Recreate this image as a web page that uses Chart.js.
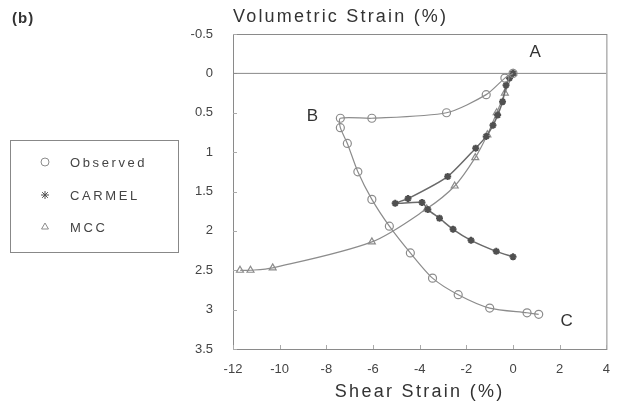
<!DOCTYPE html>
<html><head><meta charset="utf-8">
<script src="https://cdn.jsdelivr.net/npm/chart.js@4"></script>
<style>html,body{margin:0;padding:0;background:#fff}canvas{display:block}</style>
</head><body>
<canvas id="c" width="623" height="407"></canvas>
<script>
// ---- data ----
const observedX = [0, -0.35, -1.15, -2.85, -6.05, -7.4, -7.4, -7.1, -6.65, -6.05, -5.3, -4.4, -3.45, -2.35, -1.0, 0.6, 1.1];
const observedY = [0, 0.06, 0.27, 0.50, 0.57, 0.57, 0.69, 0.89, 1.25, 1.60, 1.94, 2.28, 2.60, 2.81, 2.98, 3.04, 3.06];

const carmelX = [0, -0.15, -0.3, -0.45, -0.66, -0.86, -1.15, -1.6, -2.8, -4.5, -5.05, -3.9, -3.65, -3.15, -2.57, -1.8, -0.72, 0];
const carmelY = [0, 0.06, 0.15, 0.36, 0.53, 0.66, 0.80, 0.95, 1.31, 1.59, 1.65, 1.64, 1.73, 1.84, 1.98, 2.12, 2.26, 2.33];

const mccX = [0, -0.35, -0.7, -1.1, -1.62, -2.5, -3.7, -6.05, -10.3, -11.25, -11.7];
const mccY = [0, 0.25, 0.50, 0.78, 1.07, 1.43, 1.72, 2.14, 2.47, 2.50, 2.50];

const zeroLineX = [-12, 4];
const zeroLineY = [0, 0];

const xTickMin = -12, xTickMax = 4, xTickStep = 2;
const yTickMin = -0.5, yTickMax = 3.5, yTickStep = 0.5;

const pointLabels = ['A', 'B', 'C'];
const pointLabelX = [0.95, -8.6, 2.3];
const pointLabelY = [-0.27, 0.55, 3.15];

const panelLabel = '(b)';
const yTitle = 'Volumetric Strain (%)';
const xTitle = 'Shear Strain (%)';
const seriesNames = ['Observed', 'CARMEL', 'MCC'];

const toPts = (xs, ys) => xs.map((x, i) => ({x, y: ys[i]}));
const FONT = '"Liberation Sans", Arial, sans-serif';

const decorPlugin = {
  id: 'decor',
  beforeDatasetsDraw(chart) {
    const {ctx, chartArea: a, scales} = chart;
    ctx.save();
    ctx.strokeStyle = '#8a8a8a';
    ctx.lineWidth = 1;
    ctx.strokeRect(a.left + 0.5, a.top + 0.5, a.right - a.left, a.bottom - a.top);
    // inward tick marks
    ctx.strokeStyle = '#aaa';
    for (let v = yTickMin; v <= yTickMax + 1e-9; v += yTickStep) {
      const py = Math.round(scales.y.getPixelForValue(v)) + 0.5;
      ctx.beginPath(); ctx.moveTo(a.left, py); ctx.lineTo(a.left + 4, py); ctx.stroke();
    }
    for (let v = xTickMin; v <= xTickMax + 1e-9; v += xTickStep) {
      const px = Math.round(scales.x.getPixelForValue(v)) + 0.5;
      ctx.beginPath(); ctx.moveTo(px, a.bottom); ctx.lineTo(px, a.bottom - 4); ctx.stroke();
    }
    ctx.restore();
  },
  afterDraw(chart) {
    const {ctx, chartArea: a, scales} = chart;
    ctx.save();
    ctx.fillStyle = '#333';
    ctx.textBaseline = 'middle';
    // panel label
    ctx.font = 'bold 15px ' + FONT;
    ctx.letterSpacing = '1px';
    ctx.textAlign = 'left';
    ctx.fillText(panelLabel, 12, 19);
    // y title (top)
    ctx.font = '18px ' + FONT;
    ctx.letterSpacing = '2.2px';
    ctx.fillText(yTitle, a.left, 17);
    // x title
    ctx.textAlign = 'center';
    ctx.letterSpacing = '2.3px';
    ctx.fillText(xTitle, (a.left + a.right) / 2, 392);
    // point labels A B C
    ctx.letterSpacing = '0px';
    ctx.font = '17px ' + FONT;
    pointLabels.forEach((t, i) => {
      ctx.fillText(t, scales.x.getPixelForValue(pointLabelX[i]), scales.y.getPixelForValue(pointLabelY[i]));
    });
    // legend box
    ctx.strokeStyle = '#888';
    ctx.lineWidth = 1;
    ctx.strokeRect(10.5, 140.5, 168, 112);
    const rows = [162, 195, 227];
    ctx.font = '13px ' + FONT;
    ctx.letterSpacing = '2.6px';
    ctx.textAlign = 'left';
    seriesNames.forEach((name, i) => {
      const ds = chart.data.datasets[i];
      const opts = {pointStyle: ds.pointStyle, radius: 4, borderWidth: ds.legendBorder, rotation: 0};
      ctx.strokeStyle = ds.pointBorderColor;
      ctx.fillStyle = ds.pointBackgroundColor;
      ctx.lineWidth = ds.legendBorder;
      Chart.helpers.drawPoint(ctx, opts, 45, rows[i]);
      ctx.fillStyle = '#444';
      ctx.fillText(name, 70, rows[i] + 1);
    });
    ctx.restore();
  }
};

new Chart(document.getElementById('c'), {
  type: 'scatter',
  data: {
    datasets: [
      {
        label: seriesNames[0], data: toPts(observedX, observedY), showLine: true, tension: 0.25,
        borderColor: '#8c8c8c', borderWidth: 1.2, pointStyle: 'circle', pointRadius: 4,
        pointBorderColor: '#8c8c8c', pointBackgroundColor: 'rgba(255,255,255,0)', pointBorderWidth: 1.2, legendBorder: 1
      },
      {
        label: seriesNames[1], data: toPts(carmelX, carmelY), showLine: true, tension: 0.2,
        borderColor: '#6a6a6a', borderWidth: 1.5, pointStyle: 'star', pointRadius: 3.5,
        pointBorderColor: '#505050', pointBackgroundColor: '#505050', pointBorderWidth: 2, legendBorder: 1
      },
      {
        label: seriesNames[2], data: toPts(mccX, mccY), showLine: true, tension: 0.3,
        borderColor: '#8c8c8c', borderWidth: 1.2, pointStyle: 'triangle', pointRadius: 4,
        pointBorderColor: '#8c8c8c', pointBackgroundColor: 'rgba(255,255,255,0)', pointBorderWidth: 1.2, legendBorder: 1
      },
      {
        label: 'zero', data: toPts(zeroLineX, zeroLineY), showLine: true,
        borderColor: '#888', borderWidth: 1, pointRadius: 0
      }
    ]
  },
  options: {
    responsive: false,
    animation: false,
    layout: {padding: {left: 180, right: 16, top: 34, bottom: 0}},
    plugins: {legend: {display: false}, tooltip: {enabled: false}},
    scales: {
      x: {
        type: 'linear', min: xTickMin, max: xTickMax,
        ticks: {stepSize: xTickStep, color: '#444', font: {family: FONT, size: 13}, padding: 13,
                callback: v => String(v)},
        grid: {display: true, drawOnChartArea: false, drawTicks: false},
        border: {display: false},
        afterFit: s => { s.height = 58; }
      },
      y: {
        type: 'linear', reverse: true, min: yTickMin, max: yTickMax,
        ticks: {stepSize: yTickStep, color: '#444', font: {family: FONT, size: 13}, padding: 20,
                callback: v => String(v)},
        grid: {display: true, drawOnChartArea: false, drawTicks: false},
        border: {display: false},
        afterFit: s => { s.width = 53; }
      }
    }
  },
  plugins: [decorPlugin]
});
</script>
</body></html>
